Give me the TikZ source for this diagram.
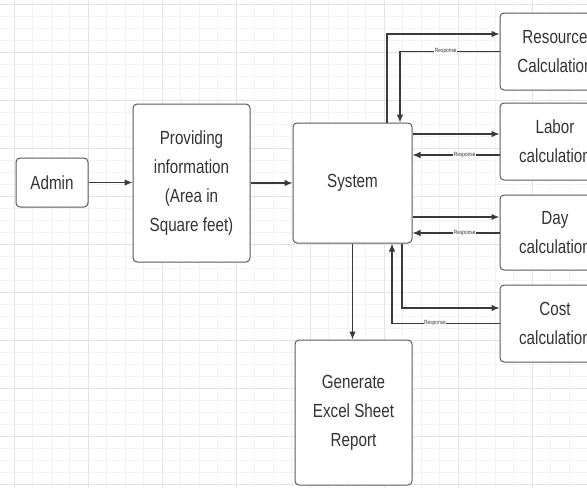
\documentclass[tikz,border=0pt]{standalone}
\usepackage{fontspec}
\setmainfont{Liberation Sans}[FakeStretch=0.8]
\usetikzlibrary{arrows.meta}
\definecolor{boxline}{HTML}{5A5A5A}
\definecolor{txt}{HTML}{333333}
\definecolor{arrc}{HTML}{3A3A3A}
\definecolor{gridmaj}{HTML}{E4E4E4}
\definecolor{gridmin}{HTML}{F3F3F3}
\tikzset{
  box/.style={draw=boxline, line width=1pt, rounded corners=4pt, fill=white, text=txt,
    align=center, inner sep=0pt, font=\fontsize{19}{29}\selectfont},
  arr/.style={draw=arrc, line width=1.1pt, -{Latex[length=8pt,width=6.5pt]}},
  thickarr/.style={arr, line width=1.8pt},
  resp/.style={fill=white, text=txt, inner sep=0.6pt, font=\fontsize{6}{6}\selectfont}
}
\begin{document}
\begin{tikzpicture}[x=1pt,y=-1pt]
\useasboundingbox (0,0) rectangle (587,488);
\begin{scope}
\clip (0,0) rectangle (587,488);
\fill[white] (0,0) rectangle (587,488);
% grid
\foreach \gx in {0,1,...,40} {\draw[gridmin, line width=0.6pt] ({-4.5+18.5*\gx},0) -- ({-4.5+18.5*\gx},488);}
\foreach \gy in {0,1,...,42} {\draw[gridmin, line width=0.6pt] (0,{4+12*\gy}) -- (587,{4+12*\gy});}
\foreach \gx in {0,1,...,8} {\draw[gridmaj, line width=0.9pt] ({14+74*\gx},0) -- ({14+74*\gx},488);}
\foreach \gy in {0,1,...,10} {\draw[gridmaj, line width=0.9pt] (0,{4+48*\gy}) -- (587,{4+48*\gy});}

% nodes
\node[box, minimum width=72pt, minimum height=49pt] (admin) at (52,182.5) {Admin};
\node[box, minimum width=117pt, minimum height=158pt] (prov) at (191.5,183) {Providing\\information\\(Area in\\Square feet)};
\node[box, minimum width=119pt, minimum height=120pt] (sys) at (352.5,183) {System};
\node[box, minimum width=117pt, minimum height=145pt] (gen) at (353.5,412.5) {Generate\\Excel Sheet\\Report};
\node[box, minimum width=110pt, minimum height=77pt] (res) at (555,51.5) {Resource\\Calculation};
\node[box, minimum width=110pt, minimum height=77pt] (lab) at (555,141.5) {Labor\\calculation};
\node[box, minimum width=110pt, minimum height=75pt] (day) at (555,232.5) {Day\\calculation};
\node[box, minimum width=110pt, minimum height=77pt] (cost) at (555,323.5) {Cost\\calculation};

% connectors
\draw[arr] (admin.east) -- (prov.west |- admin.east);
\draw[arr] (prov.east) -- (sys.west);
\draw[arr] (sys.south) -- (sys.south |- gen.north);

% resource
\draw[arr] ([xshift=34.5pt]sys.north) |- ([yshift=17.5pt]res.west);
\draw[arr] (res.west) -| node[resp, pos=0.27] {Response} ([xshift=47.5pt]sys.north);

% labor
\draw[arr] ([yshift=7.5pt]lab.west -| sys.east) -- ([yshift=7.5pt]lab.west);
\draw[arr] ([yshift=-13.5pt]lab.west) -- node[resp, pos=0.4] {Response} ([yshift=-13.5pt]lab.west -| sys.east);

% day
\draw[thickarr] ([yshift=-34pt]sys.east) -- ([yshift=-34pt]sys.east -| day.west);
\draw[arr] ([yshift=-0.5pt]day.west) -- node[resp, pos=0.4] {Response} ([yshift=-0.5pt]day.west -| sys.east);

% cost
\draw[arr] ([xshift=49.5pt]sys.south) |- ([yshift=15.5pt]cost.west);
\draw[arr] (cost.west) -| node[resp, pos=0.3] {Response} ([xshift=39.5pt]sys.south);
\end{scope}
\end{tikzpicture}
\end{document}
